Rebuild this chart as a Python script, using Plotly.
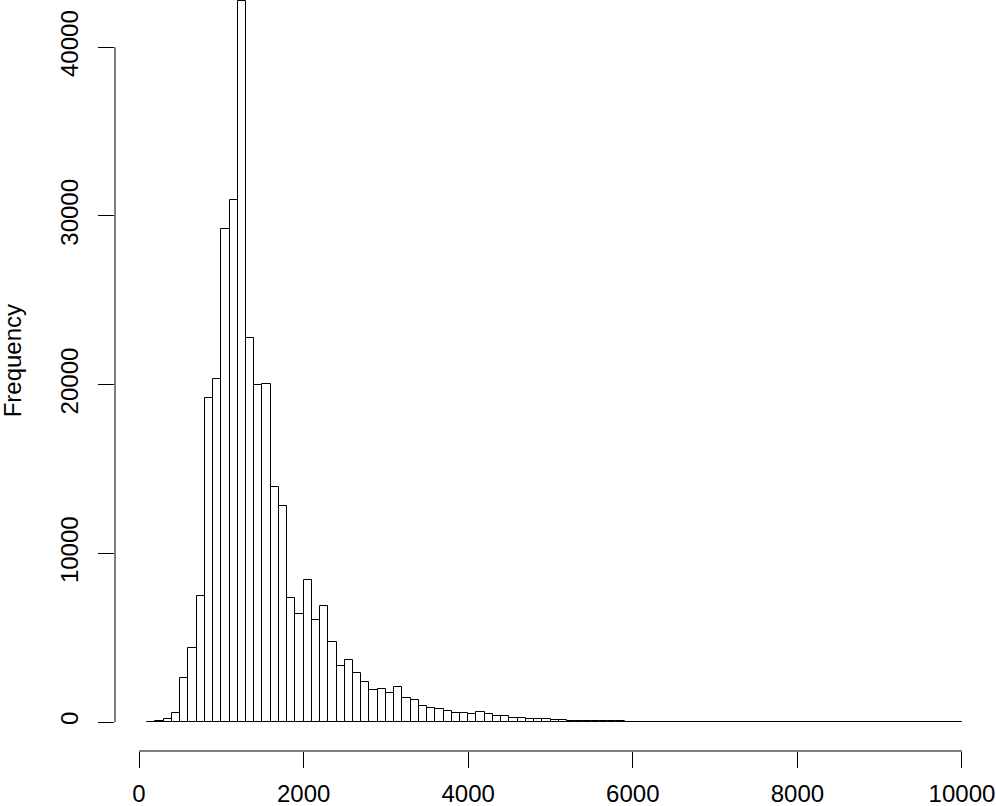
import plotly.graph_objects as go

# Histogram bins (width 100) starting at 100
bin_start = 100
bin_width = 100
counts = [
    2, 80, 180, 515, 2590, 4370, 7490, 19220, 20350,            # 100..900
    29200, 30920, 42760, 22780, 19990, 20030, 13950, 12820,     # 1000..1700
    7370, 6420, 8400, 6070, 6900, 4740, 3340, 3660, 2920, 2390, # 1800..2700
    1880, 1940, 1720, 2090, 1440, 1310, 970, 850, 790, 670,     # 2800..3700
    550, 530, 490, 610, 490, 370, 340, 255, 255, 180, 180, 160, # 3800..4900
    140, 110, 90, 75, 60, 50, 45, 40, 35, 30,                   # 5000..5900
    28, 25, 22, 20, 17, 15, 14, 12, 11, 10,                     # 6000..6900
    8, 6, 9, 4, 3, 2, 2, 1, 1, 1,                               # 7000..7900
    1, 1, 1, 1, 1, 1, 1, 1, 1, 1,                               # 8000..8900
    1, 1, 1, 1, 1, 1, 1, 1, 1, 1,                               # 9000..9800
]
centers = [bin_start + bin_width * (i + 0.5) for i in range(len(counts))]

x_ticks = [0, 2000, 4000, 6000, 8000, 10000]
y_ticks = [0, 10000, 20000, 30000, 40000]
y_title = "Frequency"

font = dict(family="Liberation Sans, Arial, sans-serif", size=24, color="#000000")

fig = go.Figure(go.Bar(
    x=centers, y=counts, width=bin_width,
    marker=dict(color="white", line=dict(color="black", width=1)),
    hoverinfo="x+y",
))

fig.update_layout(
    width=996, height=806,
    margin=dict(l=115, r=10, t=0, b=55),
    paper_bgcolor="white", plot_bgcolor="white",
    showlegend=False, bargap=0,
    font=font,
    xaxis=dict(
        range=[-292, 10292], tickmode="array", tickvals=x_ticks,
        ticktext=[str(v) for v in x_ticks],
        ticks="outside", ticklen=16, tickwidth=1, tickcolor="black",
        showline=False, showgrid=False, zeroline=False, automargin=False,
        tickfont=font, ticklabelstandoff=5,
    ),
    yaxis=dict(
        range=[-1718, 42800], tickmode="array", tickvals=y_ticks,
        ticktext=[str(v) for v in y_ticks],
        ticks="outside", ticklen=16, tickwidth=1, tickcolor="black",
        showline=False, showgrid=False, zeroline=False, automargin=False,
        tickangle=-90, tickfont=font, ticklabelstandoff=10,
    ),
    annotations=[dict(
        text=y_title, xref="paper", yref="y", x=0, y=max(counts) / 2,
        xanchor="center", yanchor="middle", xshift=-103, textangle=-90,
        showarrow=False, font=font,
    )],
    shapes=[
        dict(type="line", xref="x", yref="paper", x0=x_ticks[0], x1=x_ticks[-1],
             y0=0, y1=0, line=dict(color="black", width=1)),
        dict(type="line", xref="paper", yref="y", x0=0, x1=0,
             y0=y_ticks[0], y1=y_ticks[-1], line=dict(color="black", width=1)),
    ],
)

fig.write_html(
    "out.html",
    config={"displayModeBar": False},
    post_script="document.body.style.margin='0';document.body.style.overflow='hidden';",
)
